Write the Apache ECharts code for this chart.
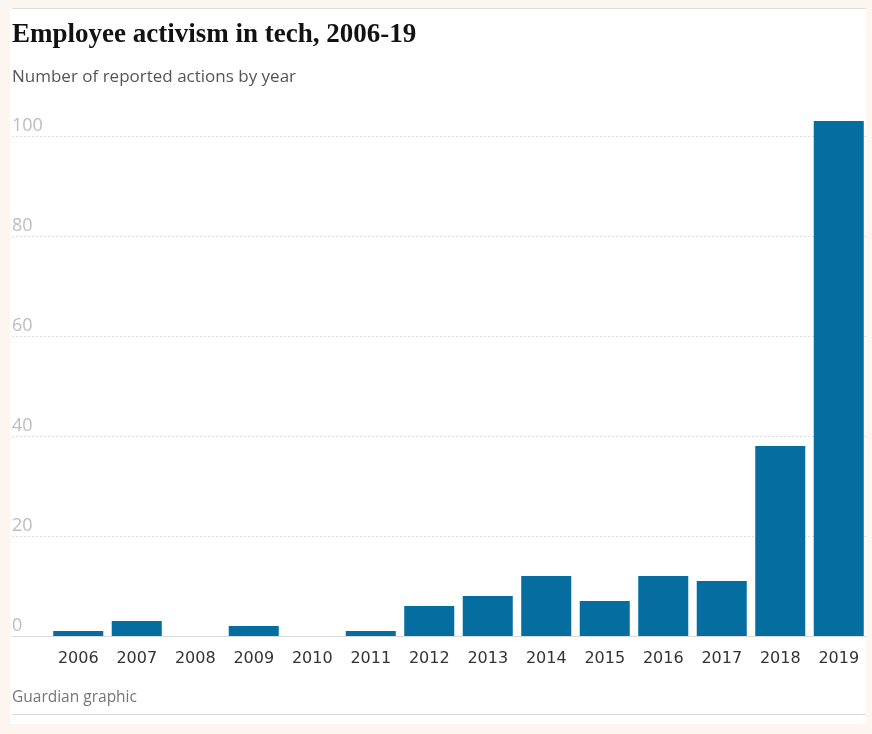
<!DOCTYPE html>
<html>
<head>
<meta charset="utf-8">
<script src="https://cdn.jsdelivr.net/npm/echarts@6/dist/echarts.min.js"></script>
<style>
  html, body { margin: 0; padding: 0; background: #fdf6f0; }
  #chart { width: 872px; height: 734px; }
</style>
</head>
<body>
<div id="chart"></div>
<script>
const years = ['2006', '2007', '2008', '2009', '2010', '2011', '2012', '2013', '2014', '2015', '2016', '2017', '2018', '2019'];
const actions = [1, 3, 0, 2, 0, 1, 6, 8, 12, 7, 12, 11, 38, 103];
const yTicks = [0, 20, 40, 60, 80, 100];

const chart = echarts.init(document.getElementById('chart'));

const sans = '"Open Sans", "Noto Sans", sans-serif';

chart.setOption({
  animation: false,
  backgroundColor: '#fdf6f0',
  graphic: [
    {
      type: 'rect',
      z: -10,
      shape: { x: 10, y: 8, width: 856, height: 716 },
      style: { fill: '#ffffff' }
    },
    {
      type: 'line',
      shape: { x1: 12, y1: 8.5, x2: 866, y2: 8.5 },
      style: { stroke: '#dcdcdc', lineWidth: 1 }
    },
    {
      type: 'line',
      shape: { x1: 12, y1: 714.5, x2: 866, y2: 714.5 },
      style: { stroke: '#dcdcdc', lineWidth: 1 }
    },
    {
      type: 'text',
      left: 12,
      top: 22,
      style: {
        text: 'Employee activism in tech, 2006-19',
        font: 'bold 27px "Liberation Serif", "DejaVu Serif", serif',
        fill: '#121212'
      }
    },
    {
      type: 'text',
      left: 12,
      top: 69,
      style: {
        text: 'Number of reported actions by year',
        font: '17px ' + sans,
        fill: '#555555'
      }
    },
    {
      type: 'text',
      left: 12,
      top: 690,
      style: {
        text: 'Guardian graphic',
        font: '15.5px ' + sans,
        fill: '#767676'
      }
    }
  ],
  grid: [
    { left: 49, right: 4, top: 136, bottom: 98 },
    { left: 12, right: 6, top: 136, bottom: 98 }
  ],
  xAxis: [
    {
      type: 'category',
      gridIndex: 0,
      data: years,
      axisLine: { show: false },
      axisTick: { show: false },
      axisLabel: {
        color: '#333333',
        fontSize: 16,
        fontFamily: '"DejaVu Sans", sans-serif',
        margin: 15
      }
    },
    {
      type: 'value',
      gridIndex: 1,
      min: 0,
      max: 1,
      axisLine: { show: true, onZero: false, lineStyle: { color: '#dcdcdc', width: 1 } },
      axisTick: { show: false },
      axisLabel: { show: false },
      splitLine: { show: false }
    }
  ],
  yAxis: [
    {
      type: 'value',
      gridIndex: 0,
      min: 0,
      max: 100,
      interval: 20,
      axisLine: { show: false },
      axisTick: { show: false },
      axisLabel: { show: false },
      splitLine: { show: false }
    },
    {
      type: 'value',
      gridIndex: 1,
      min: yTicks[0],
      max: yTicks[yTicks.length - 1],
      interval: 20,
      axisLine: { show: false },
      axisTick: { show: false },
      axisLabel: {
        inside: true,
        color: '#bdbdbd',
        fontSize: 18,
        fontFamily: sans,
        verticalAlign: 'bottom',
        padding: [0, 0, 1, 0],
        margin: 0
      },
      splitLine: {
        show: true,
        lineStyle: { color: '#dcdcdc', type: [2, 2], width: 1 }
      }
    }
  ],
  series: [
    {
      type: 'bar',
      xAxisIndex: 0,
      yAxisIndex: 0,
      data: actions,
      barCategoryGap: '14.5%',
      clip: false,
      itemStyle: { color: '#066da1' }
    }
  ]
});
</script>
</body>
</html>
